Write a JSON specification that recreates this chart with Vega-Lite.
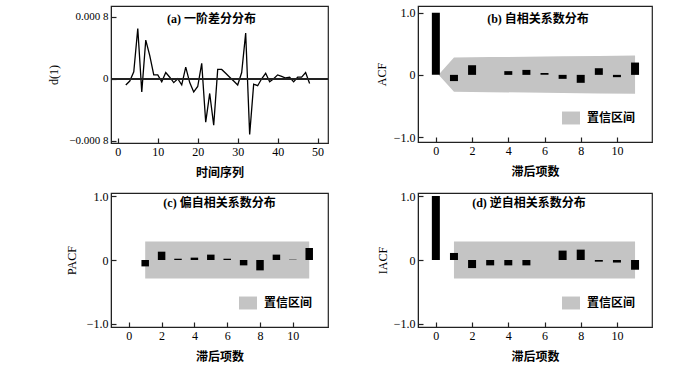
{
  "$schema": "https://vega.github.io/schema/vega-lite/v6.json",
  "padding": {"left": 46, "top": 5, "right": 2, "bottom": 2},
  "background": "white",
  "bounds": "flush",
  "columns": 2,
  "spacing": {"row": 50, "column": 90},
  "resolve": {"scale": {"color": "independent"}, "legend": {"color": "independent"}},
  "concat": [
    {
      "width": 217, "height": 137,
      "view": {"stroke": "#222", "strokeWidth": 1.2},
      "title": {"text": "(a) 一阶差分分布", "dx": -8, "font": "Liberation Serif, Noto Sans CJK SC", "fontSize": 12, "fontWeight": "bold", "color": "#000", "anchor": "middle", "frame": "group", "offset": -20},
      "data": {"values": [
        {"t": 2, "d": -0.00008}, {"t": 3, "d": -0.00003}, {"t": 4, "d": 0.00009}, {"t": 5, "d": 0.00065},
        {"t": 6, "d": -0.00017}, {"t": 7, "d": 0.0005}, {"t": 8, "d": 0.0003}, {"t": 9, "d": 0.00005},
        {"t": 10, "d": 0.00005}, {"t": 11, "d": -0.00004}, {"t": 12, "d": 0.00008}, {"t": 13, "d": 0.00002},
        {"t": 14, "d": -0.00005}, {"t": 15, "d": 0.0}, {"t": 16, "d": -0.00008}, {"t": 17, "d": 0.00015},
        {"t": 18, "d": -0.00005}, {"t": 19, "d": -0.00017}, {"t": 20, "d": -0.0001}, {"t": 21, "d": 0.0002},
        {"t": 22, "d": -0.00056}, {"t": 23, "d": -0.00019}, {"t": 24, "d": -0.0006}, {"t": 25, "d": 0.00012},
        {"t": 26, "d": 0.00012}, {"t": 27, "d": 0.00007}, {"t": 28, "d": 0.00002}, {"t": 29, "d": -0.00003},
        {"t": 30, "d": -0.00008}, {"t": 31, "d": 0.00008}, {"t": 32, "d": 0.00059}, {"t": 33, "d": -0.00072},
        {"t": 34, "d": -0.00007}, {"t": 35, "d": -0.00009}, {"t": 36, "d": 0.0}, {"t": 37, "d": 0.00007},
        {"t": 38, "d": -0.00004}, {"t": 39, "d": 0.0}, {"t": 40, "d": 0.00005}, {"t": 41, "d": 0.00003},
        {"t": 42, "d": 0.00001}, {"t": 43, "d": 0.00002}, {"t": 44, "d": -0.00004}, {"t": 45, "d": 0.00002},
        {"t": 46, "d": 0.00002}, {"t": 47, "d": 0.00008}, {"t": 48, "d": -0.00006}
      ]},
      "layer": [
        {"mark": {"type": "line", "color": "#000", "strokeWidth": 1.3},
         "encoding": {
           "x": {"field": "t", "type": "quantitative", "scale": {"domain": [-1.7, 52.6], "nice": false, "zero": false},
                 "axis": {"values": [0, 10, 20, 30, 40, 50], "title": "时间序列", "gridOpacity": 0, "tickSize": -5, "tickColor": "#222", "tickWidth": 1.2, "domainColor": "#222", "labelColor": "#000", "labelFont": "Liberation Serif", "labelFontSize": 12, "labelPadding": 8, "labelOverlap": false, "titleFont": "Liberation Serif, Noto Sans CJK SC", "titleFontSize": 12, "titleFontWeight": "bold", "titleColor": "#000", "titleY": 29, "titleBaseline": "middle"}},
           "y": {"field": "d", "type": "quantitative", "scale": {"domain": [-0.00083, 0.00094], "nice": false},
                 "axis": {"values": [-0.0008, -0.0006, -0.0004, -0.0002, 0, 0.0002, 0.0004, 0.0006, 0.0008], "title": "d(1)", "gridOpacity": 0, "tickSize": -5, "tickColor": "#222", "tickWidth": 1.2, "domainColor": "#222", "labelColor": "#000", "labelFont": "Liberation Serif", "labelFontSize": 11, "labelPadding": 8, "labelOverlap": false, "titleFont": "Liberation Serif", "titleFontSize": 12, "titleFontWeight": "normal", "titleColor": "#000", "titleX": -58, "titleBaseline": "middle",
                          "labelExpr": "datum.value == 0 ? '0' : slice(format(datum.value, '.4f'), 0, -1) + ' ' + slice(format(datum.value, '.4f'), -1)"}}
         }},
        {"mark": {"type": "rule", "color": "#222", "strokeWidth": 1.5}, "encoding": {"y": {"datum": 0, "type": "quantitative"}}}
      ]
    },
    {
      "width": 234, "height": 136,
      "view": {"stroke": "#222", "strokeWidth": 1.2},
      "title": {"text": "(b) 自相关系数分布", "dx": 3, "font": "Liberation Serif, Noto Sans CJK SC", "fontSize": 12, "fontWeight": "bold", "color": "#000", "anchor": "middle", "frame": "group", "offset": -20},
      "layer": [
        {"data": {"values": [
           {"lag": 0.15, "lo": 0, "hi": 0}, {"lag": 1, "lo": -0.27, "hi": 0.28}, {"lag": 2, "lo": -0.275, "hi": 0.283},
           {"lag": 3, "lo": -0.278, "hi": 0.286}, {"lag": 5, "lo": -0.285, "hi": 0.292}, {"lag": 7, "lo": -0.292, "hi": 0.298},
           {"lag": 9, "lo": -0.298, "hi": 0.304}, {"lag": 11, "lo": -0.305, "hi": 0.31}]},
         "mark": {"type": "area", "opacity": 1},
         "encoding": {
           "x": {"field": "lag", "type": "quantitative", "scale": {"domain": [-0.71, 11.66], "nice": false, "zero": false},
                 "axis": {"values": [0, 2, 4, 6, 8, 10], "title": "滞后项数", "gridOpacity": 0, "tickSize": -5, "tickColor": "#222", "tickWidth": 1.2, "domainColor": "#222", "labelColor": "#000", "labelFont": "Liberation Serif", "labelFontSize": 12, "labelPadding": 8, "labelOverlap": false, "titleFont": "Liberation Serif, Noto Sans CJK SC", "titleFontSize": 12, "titleFontWeight": "bold", "titleColor": "#000", "titleY": 29, "titleBaseline": "middle"}},
           "y": {"field": "lo", "type": "quantitative", "scale": {"domain": [-1.08, 1.108], "nice": false},
                 "axis": {"values": [-1, -0.5, 0, 0.5, 1], "title": "ACF", "gridOpacity": 0, "tickSize": -5, "tickColor": "#222", "tickWidth": 1.2, "domainColor": "#222", "labelColor": "#000", "labelFont": "Liberation Serif", "labelFontSize": 12, "labelPadding": 8, "labelOverlap": false, "titleFont": "Liberation Serif", "titleFontSize": 12, "titleFontWeight": "normal", "titleColor": "#000", "titleX": -37, "titleBaseline": "middle",
                          "labelExpr": "datum.value == 0 ? '0' : format(datum.value, '.1f')"}},
           "y2": {"field": "hi"},
           "color": {"datum": "置信区间", "type": "nominal", "scale": {"range": ["#c4c4c4"]},
                     "legend": {"title": null, "orient": "none", "legendX": 144, "legendY": 103, "padding": 0,
                                "symbolType": "M-1,-0.72L1,-0.72L1,0.72L-1,0.72Z", "symbolSize": 324, "symbolStrokeWidth": 0, "labelOffset": 7,
                                "labelFont": "Liberation Serif, Noto Sans CJK SC", "labelFontSize": 12, "labelFontWeight": "bold", "labelColor": "#000"}}
         }},
        {"mark": {"type": "rule", "color": "#222", "strokeWidth": 1.5}, "encoding": {"y": {"datum": 0, "type": "quantitative"}}},
        {"data": {"values": [
           {"lag": 0, "v": 1.0}, {"lag": 1, "v": -0.1}, {"lag": 2, "v": 0.155}, {"lag": 3, "v": 0.0},
           {"lag": 4, "v": 0.06}, {"lag": 5, "v": 0.08}, {"lag": 6, "v": 0.03}, {"lag": 7, "v": -0.064},
           {"lag": 8, "v": -0.128}, {"lag": 9, "v": 0.107}, {"lag": 10, "v": -0.037}, {"lag": 11, "v": 0.198}]},
         "mark": {"type": "bar", "color": "#000", "size": 8},
         "encoding": {
           "x": {"field": "lag", "type": "quantitative"},
           "y": {"field": "v", "type": "quantitative"}
         }}
      ]
    },
    {
      "width": 217, "height": 134,
      "view": {"stroke": "#222", "strokeWidth": 1.2},
      "title": {"text": "(c) 偏自相关系数分布", "font": "Liberation Serif, Noto Sans CJK SC", "fontSize": 12, "fontWeight": "bold", "color": "#000", "anchor": "middle", "frame": "group", "offset": -20},
      "layer": [
        {"data": {"values": [{"lag": 1, "lo": -0.29, "hi": 0.29}, {"lag": 11, "lo": -0.29, "hi": 0.29}]},
         "mark": {"type": "area", "opacity": 1},
         "encoding": {
           "x": {"field": "lag", "type": "quantitative", "scale": {"domain": [-0.78, 11.84], "nice": false, "zero": false},
                 "axis": {"values": [0, 2, 4, 6, 8, 10], "title": "滞后项数", "gridOpacity": 0, "tickSize": -5, "tickColor": "#222", "tickWidth": 1.2, "domainColor": "#222", "labelColor": "#000", "labelFont": "Liberation Serif", "labelFontSize": 12, "labelPadding": 8, "labelOverlap": false, "titleFont": "Liberation Serif, Noto Sans CJK SC", "titleFontSize": 12, "titleFontWeight": "bold", "titleColor": "#000", "titleY": 29, "titleBaseline": "middle"}},
           "y": {"field": "lo", "type": "quantitative", "scale": {"domain": [-1.047, 1.047], "nice": false},
                 "axis": {"values": [-1, -0.5, 0, 0.5, 1], "title": "PACF", "gridOpacity": 0, "tickSize": -5, "tickColor": "#222", "tickWidth": 1.2, "domainColor": "#222", "labelColor": "#000", "labelFont": "Liberation Serif", "labelFontSize": 12, "labelPadding": 8, "labelOverlap": false, "titleFont": "Liberation Serif", "titleFontSize": 12, "titleFontWeight": "normal", "titleColor": "#000", "titleX": -40, "titleBaseline": "middle",
                          "labelExpr": "datum.value == 0 ? '0' : format(datum.value, '.1f')"}},
           "y2": {"field": "hi"},
           "color": {"datum": "置信区间", "type": "nominal", "scale": {"range": ["#c4c4c4"]},
                     "legend": {"title": null, "orient": "none", "legendX": 128, "legendY": 101, "padding": 0,
                                "symbolType": "M-1,-0.72L1,-0.72L1,0.72L-1,0.72Z", "symbolSize": 324, "symbolStrokeWidth": 0, "labelOffset": 7,
                                "labelFont": "Liberation Serif, Noto Sans CJK SC", "labelFontSize": 12, "labelFontWeight": "bold", "labelColor": "#000"}}
         }},
        {"mark": {"type": "rule", "color": "#222", "strokeWidth": 1.5}, "encoding": {"y": {"datum": 0, "type": "quantitative"}}},
        {"data": {"values": [
           {"lag": 1, "v": -0.1}, {"lag": 2, "v": 0.13}, {"lag": 3, "v": 0.02}, {"lag": 4, "v": 0.037},
           {"lag": 5, "v": 0.084}, {"lag": 6, "v": 0.02}, {"lag": 7, "v": -0.084}, {"lag": 8, "v": -0.162},
           {"lag": 9, "v": 0.084}, {"lag": 10, "v": 0.005}, {"lag": 11, "v": 0.188}]},
         "mark": {"type": "bar", "color": "#000", "size": 7.5},
         "encoding": {
           "x": {"field": "lag", "type": "quantitative"},
           "y": {"field": "v", "type": "quantitative"}
         }}
      ]
    },
    {
      "width": 234, "height": 134,
      "view": {"stroke": "#222", "strokeWidth": 1.2},
      "title": {"text": "(d) 逆自相关系数分布", "dx": -6, "font": "Liberation Serif, Noto Sans CJK SC", "fontSize": 12, "fontWeight": "bold", "color": "#000", "anchor": "middle", "frame": "group", "offset": -20},
      "layer": [
        {"data": {"values": [{"lag": 1, "lo": -0.29, "hi": 0.29}, {"lag": 11, "lo": -0.29, "hi": 0.29}]},
         "mark": {"type": "area", "opacity": 1},
         "encoding": {
           "x": {"field": "lag", "type": "quantitative", "scale": {"domain": [-0.71, 11.66], "nice": false, "zero": false},
                 "axis": {"values": [0, 2, 4, 6, 8, 10], "title": "滞后项数", "gridOpacity": 0, "tickSize": -5, "tickColor": "#222", "tickWidth": 1.2, "domainColor": "#222", "labelColor": "#000", "labelFont": "Liberation Serif", "labelFontSize": 12, "labelPadding": 8, "labelOverlap": false, "titleFont": "Liberation Serif, Noto Sans CJK SC", "titleFontSize": 12, "titleFontWeight": "bold", "titleColor": "#000", "titleY": 29, "titleBaseline": "middle"}},
           "y": {"field": "lo", "type": "quantitative", "scale": {"domain": [-1.047, 1.047], "nice": false},
                 "axis": {"values": [-1, -0.5, 0, 0.5, 1], "title": "IACF", "gridOpacity": 0, "tickSize": -5, "tickColor": "#222", "tickWidth": 1.2, "domainColor": "#222", "labelColor": "#000", "labelFont": "Liberation Serif", "labelFontSize": 12, "labelPadding": 8, "labelOverlap": false, "titleFont": "Liberation Serif", "titleFontSize": 12, "titleFontWeight": "normal", "titleColor": "#000", "titleX": -36, "titleBaseline": "middle",
                          "labelExpr": "datum.value == 0 ? '0' : format(datum.value, '.1f')"}},
           "y2": {"field": "hi"},
           "color": {"datum": "置信区间", "type": "nominal", "scale": {"range": ["#c4c4c4"]},
                     "legend": {"title": null, "orient": "none", "legendX": 144, "legendY": 101, "padding": 0,
                                "symbolType": "M-1,-0.72L1,-0.72L1,0.72L-1,0.72Z", "symbolSize": 324, "symbolStrokeWidth": 0, "labelOffset": 7,
                                "labelFont": "Liberation Serif, Noto Sans CJK SC", "labelFontSize": 12, "labelFontWeight": "bold", "labelColor": "#000"}}
         }},
        {"mark": {"type": "rule", "color": "#222", "strokeWidth": 1.5}, "encoding": {"y": {"datum": 0, "type": "quantitative"}}},
        {"data": {"values": [
           {"lag": 0, "v": 1.0}, {"lag": 1, "v": 0.11}, {"lag": 2, "v": -0.126}, {"lag": 3, "v": -0.084},
           {"lag": 4, "v": -0.084}, {"lag": 5, "v": -0.084}, {"lag": 6, "v": 0.0}, {"lag": 7, "v": 0.147},
           {"lag": 8, "v": 0.162}, {"lag": 9, "v": -0.026}, {"lag": 10, "v": -0.04}, {"lag": 11, "v": -0.152}]},
         "mark": {"type": "bar", "color": "#000", "size": 8},
         "encoding": {
           "x": {"field": "lag", "type": "quantitative"},
           "y": {"field": "v", "type": "quantitative"}
         }}
      ]
    }
  ]
}
